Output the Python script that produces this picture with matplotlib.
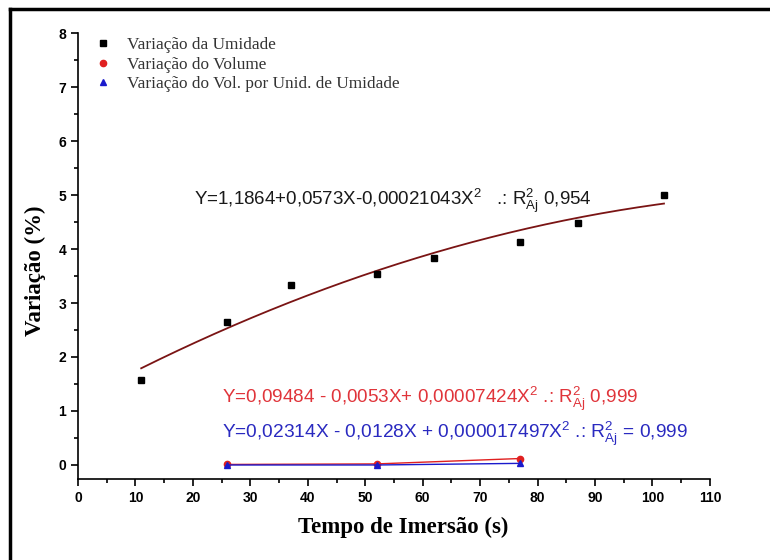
import numpy as np
import matplotlib
matplotlib.use('Agg')
import matplotlib.pyplot as plt
from matplotlib.lines import Line2D
from matplotlib.ticker import MultipleLocator

plt.rcParams['mathtext.fontset'] = 'custom'
plt.rcParams['mathtext.rm'] = 'Liberation Sans'
plt.rcParams['mathtext.it'] = 'Liberation Sans'
plt.rcParams['mathtext.default'] = 'rm'

# Data
umidade_x = [11, 26, 37, 52, 62, 77, 87, 102]
umidade_y = [1.58, 2.65, 3.33, 3.53, 3.83, 4.13, 4.48, 5.0]

volume_x = [26, 52, 77]
volume_y = [0.01, 0.02, 0.12]

vol_umid_x = [26, 52, 77]
vol_umid_y = [0.0, 0.0, 0.03]

# quadratic fit printed on the chart (c0, c1, c2)
fit_coefs = [1.1864, 0.0573, -0.00021043]

eq_umidade = r'Y=1,1864+0,0573X-0,00021043X$^2$   .: R$^2_{Aj}$ 0,954'
eq_volume = r'Y=0,09484 - 0,0053X+ 0,00007424X$^2$ .: R$^2_{Aj}$ 0,999'
eq_vol_umid = r'Y=0,02314X - 0,0128X + 0,000017497X$^2$ .: R$^2_{Aj}$ = 0,999'

fig = plt.figure(figsize=(7.7, 5.6), dpi=100)
ax = fig.add_axes([0.1013, 0.1446, 0.8207, 0.7964])

# fitted curve for moisture
xf = np.linspace(min(umidade_x), max(umidade_x), 200)
yf = fit_coefs[0] + fit_coefs[1] * xf + fit_coefs[2] * xf ** 2
ax.plot(xf, yf, color='#7a1414', lw=1.3, zorder=2)

ax.plot(umidade_x, umidade_y, ls='none', marker='s', ms=4, color='black', zorder=3)
ax.plot(volume_x, volume_y, ls='-', lw=1, marker='o', ms=4.5, color='#e02020', zorder=3)
ax.plot(vol_umid_x, vol_umid_y, ls='-', lw=1, marker='^', ms=4.5, color='#1a1acc', zorder=3)

# legend with markers only
handles = [
    Line2D([], [], ls='none', marker='s', ms=4, color='black'),
    Line2D([], [], ls='none', marker='o', ms=4.5, color='#e02020'),
    Line2D([], [], ls='none', marker='^', ms=4.5, color='#1a1acc'),
]
labels = ['Variação da Umidade', 'Variação do Volume',
          'Variação do Vol. por Unid. de Umidade']
leg = ax.legend(handles, labels, loc='upper left', bbox_to_anchor=(0.002, 1.025),
                frameon=False, handlelength=1.0, handletextpad=0.85,
                labelspacing=0.2, prop={'family': 'Liberation Serif', 'size': 12.4})
for t in leg.get_texts():
    t.set_color('#333333')

ax.text(20.2, 4.81, eq_umidade, fontsize=13.5, family='Liberation Sans',
        color='#1a1a1a', va='baseline')
ax.text(25.0, 1.15, eq_volume, fontsize=13.6, family='Liberation Sans',
        color='#e0343a', va='baseline')
ax.text(25.0, 0.5, eq_vol_umid, fontsize=13.8, family='Liberation Sans',
        color='#2a2ac0', va='baseline')

ax.set_xlim(0, 110)
ax.set_ylim(-0.26, 8)
ax.xaxis.set_major_locator(MultipleLocator(10))
ax.xaxis.set_minor_locator(MultipleLocator(5))
ax.yaxis.set_major_locator(MultipleLocator(1))
ax.yaxis.set_minor_locator(MultipleLocator(0.5))
ax.tick_params(which='major', direction='out', length=5, width=1.2)
ax.tick_params(which='minor', direction='out', length=3, width=1.2)
for lbl in ax.get_xticklabels() + ax.get_yticklabels():
    lbl.set_family(['Liberation Sans Narrow', 'Liberation Sans'])
    lbl.set_fontweight('bold')
    lbl.set_fontsize(10)

ax.spines['top'].set_visible(False)
ax.spines['right'].set_visible(False)
ax.spines['left'].set_linewidth(1.2)
ax.spines['bottom'].set_linewidth(1.2)

ax.set_xlabel('Tempo de Imersão (s)', family='Liberation Serif', fontweight='bold',
              fontsize=16.5)
ax.set_ylabel('Variação (%)', family='Liberation Serif', fontweight='bold',
              fontsize=16.5)
ax.xaxis.set_label_coords(0.514, -0.085)
ax.yaxis.set_label_coords(-0.051, 0.466)

# outer frame lines (top and left edges of the image)
fig.add_artist(Line2D([10 / 770, 10 / 770], [0, 1 - 9 / 560], color='black', lw=2.5,
                      transform=fig.transFigure))
fig.add_artist(Line2D([10 / 770, 1], [1 - 9 / 560, 1 - 9 / 560], color='black', lw=2.5,
                      transform=fig.transFigure))

fig.savefig('out.png', dpi=100)
